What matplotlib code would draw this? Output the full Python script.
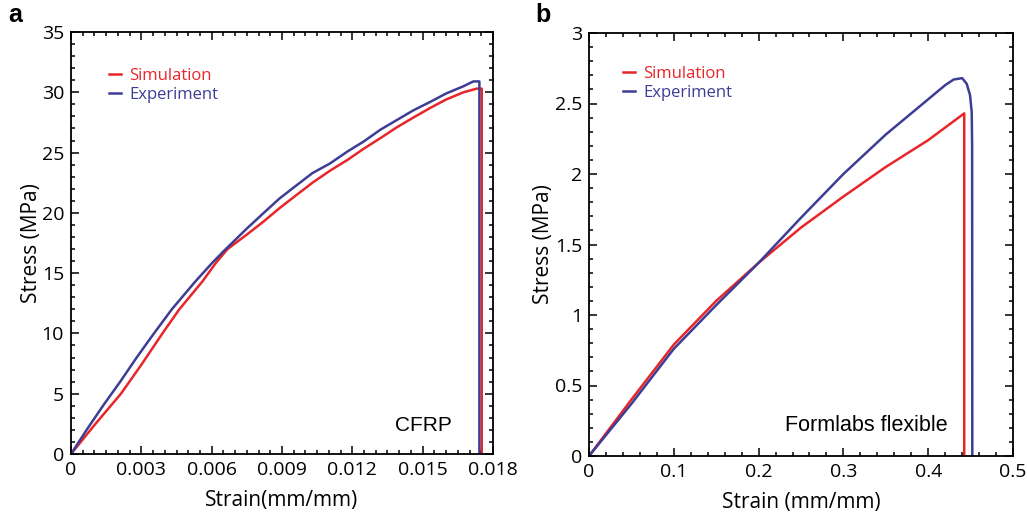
import matplotlib
matplotlib.use("Agg")
import matplotlib.pyplot as plt
from matplotlib.ticker import MultipleLocator, FuncFormatter
from matplotlib.lines import Line2D

plt.rcParams['font.family'] = ['Open Sans', 'DejaVu Sans']

RED = '#e8262a'
BLUE = '#3d3d96'

# Panel a: CFRP
a_exp_strain = [0, 0.0007, 0.0014, 0.0021, 0.0028, 0.0035, 0.0043, 0.0053, 0.0060, 0.0065,
                0.00678, 0.0075, 0.0082, 0.0089, 0.00963, 0.0103, 0.01105, 0.0118,
                0.01247, 0.0132, 0.0139, 0.0146, 0.01532, 0.0160, 0.01674, 0.01716,
                0.01742, 0.01742]
a_exp_stress = [0, 2.1, 4.1, 6.0, 8.0, 9.9, 12.0, 14.3, 15.8, 16.8,
                17.33, 18.7, 19.96, 21.2, 22.3, 23.3, 24.1, 25.1,
                25.9, 26.9, 27.7, 28.5, 29.2, 29.9, 30.5, 30.9,
                30.9, 0]
a_sim_strain = [0, 0.0010, 0.00213, 0.0030, 0.0039, 0.00462, 0.0056, 0.0062, 0.00668,
                0.0075, 0.0082, 0.0089, 0.00963, 0.0103, 0.01105, 0.0118, 0.01247,
                0.0132, 0.0139, 0.0146, 0.01532, 0.0160, 0.01674, 0.0173, 0.01752, 0.01752]
a_sim_stress = [0, 2.4, 5.0, 7.4, 10.0, 12.0, 14.3, 15.9, 17.0,
                18.2, 19.26, 20.4, 21.5, 22.5, 23.5, 24.4, 25.3,
                26.2, 27.1, 27.9, 28.7, 29.4, 30.0, 30.3, 30.3, 0]

# Panel b: Formlabs flexible
b_exp_strain = [0, 0.05, 0.1, 0.15, 0.2, 0.25, 0.3, 0.35, 0.4, 0.42, 0.43, 0.44, 0.4454,
                0.4493, 0.4513, 0.4518, 0.452]
b_exp_stress = [0, 0.37, 0.76, 1.07, 1.37, 1.69, 2.0, 2.28, 2.53, 2.63, 2.67, 2.68, 2.64,
                2.56, 2.44, 2.2, 0]
b_sim_strain = [0, 0.05, 0.1, 0.15, 0.2, 0.25, 0.3, 0.35, 0.4, 0.4425, 0.4425]
b_sim_stress = [0, 0.40, 0.79, 1.10, 1.37, 1.62, 1.84, 2.05, 2.24, 2.43, 0]

series_labels = ['Simulation', 'Experiment']

fig = plt.figure(figsize=(10.27, 5.15), dpi=100)
W, H = 1027, 515

def make_ax(l, r, t, b):
    return fig.add_axes([l / W, 1 - b / H, (r - l) / W, (b - t) / H])

axa = make_ax(71, 493, 32, 454)
axb = make_ax(589, 1013, 33, 456)

def fmt_plain(v, pos):
    s = ('%.4f' % v).rstrip('0').rstrip('.')
    return '0' if s in ('0', '-0') else s

for ax in (axa, axb):
    ax.tick_params(which='both', direction='in', top=True, right=True, labelsize=14,
                   width=1.1, pad=5)
    ax.tick_params(which='major', length=5.5)
    ax.tick_params(which='minor', length=3)
    for sp in ax.spines.values():
        sp.set_linewidth(1.3)
    ax.xaxis.set_major_formatter(FuncFormatter(fmt_plain))
    ax.yaxis.set_major_formatter(FuncFormatter(fmt_plain))

# Panel a
axa.plot(a_sim_strain, a_sim_stress, color=RED, lw=1.8)
axa.plot(a_exp_strain, a_exp_stress, color=BLUE, lw=1.8)
axa.set_xlim(0, 0.018)
axa.set_ylim(0, 35)
axa.xaxis.set_major_locator(MultipleLocator(0.003))
axa.xaxis.set_minor_locator(MultipleLocator(0.0005))
axa.yaxis.set_major_locator(MultipleLocator(5))
axa.yaxis.set_minor_locator(MultipleLocator(1))
axa.set_xlabel('Strain(mm/mm)', fontsize=15, labelpad=8)
axa.set_ylabel('Stress (MPa)', fontsize=15, labelpad=0)
axa.text(0.01502, 2.4, 'CFRP', fontsize=15, ha='center', va='center',
         family=['Liberation Sans', 'DejaVu Sans'])

# Panel b
axb.plot(b_sim_strain, b_sim_stress, color=RED, lw=1.8)
axb.plot(b_exp_strain, b_exp_stress, color=BLUE, lw=1.8)
axb.set_xlim(0, 0.5)
axb.set_ylim(0, 3)
axb.xaxis.set_major_locator(MultipleLocator(0.1))
axb.xaxis.set_minor_locator(MultipleLocator(0.02))
axb.yaxis.set_major_locator(MultipleLocator(0.5))
axb.yaxis.set_minor_locator(MultipleLocator(0.1))
axb.set_xlabel('Strain (mm/mm)', fontsize=15, labelpad=8)
axb.set_ylabel('Stress (MPa)', fontsize=15, labelpad=0.5)
axb.text(0.3267, 0.213, 'Formlabs flexible', fontsize=15.5, ha='center', va='center',
         family=['Liberation Sans', 'DejaVu Sans'])

# Legends
for ax, (lx, ly) in ((axa, (0.09, 0.915)), (axb, (0.08, 0.923))):
    handles = [Line2D([0], [0], color=RED, lw=1.8), Line2D([0], [0], color=BLUE, lw=1.8)]
    leg = ax.legend(handles, series_labels, loc='upper left', bbox_to_anchor=(lx, ly),
                    frameon=False, fontsize=12, handlelength=0.7, handletextpad=0.5,
                    labelspacing=0.2, borderaxespad=0, borderpad=0)
    for txt, c in zip(leg.get_texts(), (RED, BLUE)):
        txt.set_color(c)

fig.text(8 / W, 1 - 15 / H, 'a', fontsize=18, fontweight='bold', va='center',
         family=['Liberation Sans', 'DejaVu Sans'])
fig.text(535 / W, 1 - 15 / H, 'b', fontsize=18, fontweight='bold', va='center',
         family=['Liberation Sans', 'DejaVu Sans'])

fig.savefig('out.png', dpi=100)
